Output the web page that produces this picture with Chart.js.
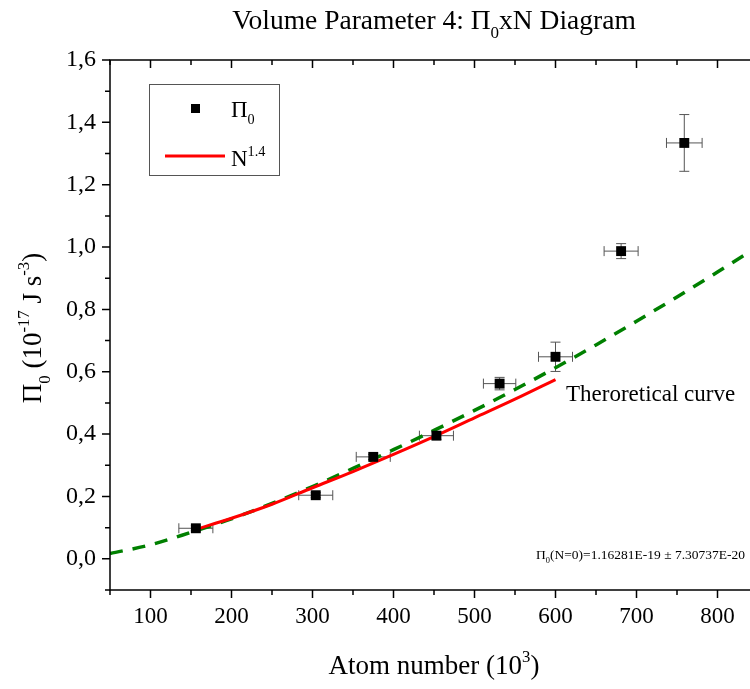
<!DOCTYPE html>
<html>
<head>
<meta charset="utf-8">
<script src="https://cdn.jsdelivr.net/npm/chart.js@4.4.0/dist/chart.umd.min.js"></script>
<style>
  html, body { margin: 0; padding: 0; background: #fff; overflow: hidden; width: 750px; height: 689px; }
  #wrap { position: relative; width: 750px; height: 689px; overflow: hidden; }
  #c { display: block; }
</style>
</head>
<body>
<div id="wrap"><canvas id="c" width="765" height="689"></canvas></div>
<script>
// Measured Π0 (10^-17 J s^-3) against atom number (10^3), with error bars
const atomNumber = [156, 304, 375, 453, 531, 600, 681, 759];
const pi0        = [0.098, 0.204, 0.327, 0.395, 0.562, 0.648, 0.987, 1.334];
const atomErr    = [21, 21, 21, 21, 20, 21, 21, 22];
const pi0Err     = [0.008, 0.008, 0.008, 0.012, 0.020, 0.047, 0.024, 0.091];

// N^1.4 fit over the first six points
const fitN   = [155, 200, 250, 300, 350, 400, 450, 500, 550, 600];
const fitPi0 = [0.094, 0.130, 0.175, 0.228, 0.280, 0.335, 0.392, 0.452, 0.512, 0.575];

// Theoretical curve
const theoN   = [50, 100, 150, 200, 250, 300, 350, 400, 450, 500, 550, 600, 650, 700, 750, 800, 850];
const theoPi0 = [0.017, 0.045, 0.085, 0.128, 0.178, 0.232, 0.290, 0.350, 0.412, 0.476, 0.543, 0.613, 0.686, 0.762, 0.840, 0.920, 1.002];

// Axis ticks
const xMajor = [100, 200, 300, 400, 500, 600, 700, 800];
const yMajor = [0.0, 0.2, 0.4, 0.6, 0.8, 1.0, 1.2, 1.4, 1.6];

const FONT = "'Liberation Serif', 'Times New Roman', serif";
const pts = (xs, ys) => xs.map((x, i) => ({ x, y: ys[i] }));

// Draws text made of normal / subscript / superscript runs
function richText(ctx, parts, x, y, size, align) {
  const sm = size * 0.62;
  const widths = parts.map(([t, m]) => {
    ctx.font = (m ? sm : size) + 'px ' + FONT;
    return ctx.measureText(t).width;
  });
  const total = widths.reduce((a, b) => a + b, 0);
  let cx = align === 'center' ? x - total / 2 : (align === 'right' ? x - total : x);
  ctx.textAlign = 'left';
  ctx.textBaseline = 'alphabetic';
  parts.forEach(([t, m], i) => {
    ctx.font = (m ? sm : size) + 'px ' + FONT;
    const dy = m === 1 ? size * 0.32 : (m === 2 ? -size * 0.45 : 0);
    ctx.fillText(t, cx, y + dy);
    cx += widths[i];
  });
  return total;
}

const frameAndText = {
  id: 'frameAndText',
  beforeDatasetsDraw(chart) {
    const { ctx, scales: { x, y } } = chart;
    ctx.save();
    ctx.strokeStyle = '#555';
    ctx.lineWidth = 1;
    atomNumber.forEach((n, i) => {
      const px = x.getPixelForValue(n), py = y.getPixelForValue(pi0[i]);
      const x0 = x.getPixelForValue(n - atomErr[i]), x1 = x.getPixelForValue(n + atomErr[i]);
      const y0 = y.getPixelForValue(pi0[i] - pi0Err[i]), y1 = y.getPixelForValue(pi0[i] + pi0Err[i]);
      ctx.beginPath();
      ctx.moveTo(x0, py); ctx.lineTo(x1, py);
      ctx.moveTo(x0, py - 5); ctx.lineTo(x0, py + 5);
      ctx.moveTo(x1, py - 5); ctx.lineTo(x1, py + 5);
      ctx.moveTo(px, y0); ctx.lineTo(px, y1);
      ctx.moveTo(px - 5, y0); ctx.lineTo(px + 5, y0);
      ctx.moveTo(px - 5, y1); ctx.lineTo(px + 5, y1);
      ctx.stroke();
    });
    ctx.restore();
  },
  afterDraw(chart) {
    const { ctx, chartArea: a, scales: { x, y } } = chart;
    ctx.save();
    // frame
    ctx.strokeStyle = '#000';
    ctx.lineWidth = 1.5;
    ctx.strokeRect(a.left, a.top, a.right - a.left, a.bottom - a.top);
    ctx.beginPath();
    for (let v = 50; v <= 850; v += 50) {
      const px = x.getPixelForValue(v);
      const len = xMajor.includes(v) ? 8 : 5;
      ctx.moveTo(px, a.bottom); ctx.lineTo(px, a.bottom + len);
      ctx.moveTo(px, a.top); ctx.lineTo(px, a.top + len);
    }
    for (let k = -1; k <= 16; k++) {
      const py = y.getPixelForValue(k / 10);
      const len = k % 2 === 0 ? 8 : 5;
      ctx.moveTo(a.left, py); ctx.lineTo(a.left - len, py);
      ctx.moveTo(a.right, py); ctx.lineTo(a.right - len, py);
    }
    ctx.stroke();

    ctx.fillStyle = '#000';
    const cx = 434;
    // title
    richText(ctx, [['Volume Parameter 4: Π', 0], ['0', 1], ['xN Diagram', 0]], cx, 29, 27.5, 'center');
    // x axis title
    richText(ctx, [['Atom number (10', 0], ['3', 2], [')', 0]], cx, 674, 27, 'center');
    // y axis title
    ctx.save();
    ctx.translate(41, (a.top + a.bottom) / 2 + 3);
    ctx.rotate(-Math.PI / 2);
    richText(ctx, [['Π', 0], ['0', 1], [' (10', 0], ['-17', 2], [' J s', 0], ['-3', 2], [')', 0]], 0, 0, 27, 'center');
    ctx.restore();

    // legend
    ctx.strokeStyle = '#555';
    ctx.lineWidth = 1;
    ctx.strokeRect(149.5, 84.5, 130, 91);
    ctx.fillStyle = '#000';
    ctx.fillRect(191, 104, 9, 9);
    richText(ctx, [['Π', 0], ['0', 1]], 231, 117, 23, 'left');
    ctx.strokeStyle = 'rgb(255,0,0)';
    ctx.lineWidth = 3;
    ctx.beginPath(); ctx.moveTo(165, 156); ctx.lineTo(225, 156); ctx.stroke();
    richText(ctx, [['N', 0], ['1.4', 2]], 231, 166, 23, 'left');

    // annotations
    richText(ctx, [['Theroretical curve', 0]], 566, 401, 23, 'left');
    richText(ctx, [['Π', 0], ['0', 1], ['(N=0)=1.16281E-19 ± 7.30737E-20', 0]], 536, 559, 13.5, 'left');
    ctx.restore();
  }
};

new Chart(document.getElementById('c'), {
  data: {
    datasets: [
      {
        type: 'line', label: 'Theoretical curve', data: pts(theoN, theoPi0),
        borderColor: 'rgb(0,128,0)', borderWidth: 3.5, borderDash: [13, 10],
        pointRadius: 0, cubicInterpolationMode: 'monotone', order: 3
      },
      {
        type: 'line', label: 'N^1.4', data: pts(fitN, fitPi0),
        borderColor: 'rgb(255,0,0)', borderWidth: 3,
        pointRadius: 0, cubicInterpolationMode: 'monotone', order: 2
      },
      {
        type: 'scatter', label: 'Π0', data: pts(atomNumber, pi0),
        pointStyle: 'rect', pointRadius: 7, backgroundColor: '#000', borderColor: '#000',
        borderWidth: 0, order: 1
      }
    ]
  },
  options: {
    responsive: false,
    animation: false,
    devicePixelRatio: 1,
    layout: { padding: { top: 60, right: 3, left: 0, bottom: 0 } },
    plugins: { legend: { display: false }, title: { display: false }, tooltip: { enabled: false } },
    scales: {
      x: {
        type: 'linear', min: 50, max: 850,
        afterFit: s => { s.height = 99; s.paddingLeft = 0; s.paddingRight = 0; },
        grid: { display: false, drawTicks: false }, border: { display: false },
        ticks: {
          stepSize: 50, autoSkip: false, maxRotation: 0, padding: 13, color: '#000',
          font: { family: FONT, size: 23 },
          callback: v => xMajor.includes(v) ? String(v) : ''
        }
      },
      y: {
        type: 'linear', min: -0.1, max: 1.6,
        afterFit: s => { s.width = 110; s.paddingTop = 0; s.paddingBottom = 0; },
        grid: { display: false, drawTicks: false }, border: { display: false },
        ticks: {
          stepSize: 0.1, autoSkip: false, padding: 14, color: '#000',
          font: { family: FONT, size: 24 },
          callback: v => {
            const k = Math.round(v * 10);
            return yMajor.some(t => Math.round(t * 10) === k) ? (k / 10).toFixed(1).replace('.', ',') : '';
          }
        }
      }
    }
  },
  plugins: [frameAndText]
});
</script>
</body>
</html>
